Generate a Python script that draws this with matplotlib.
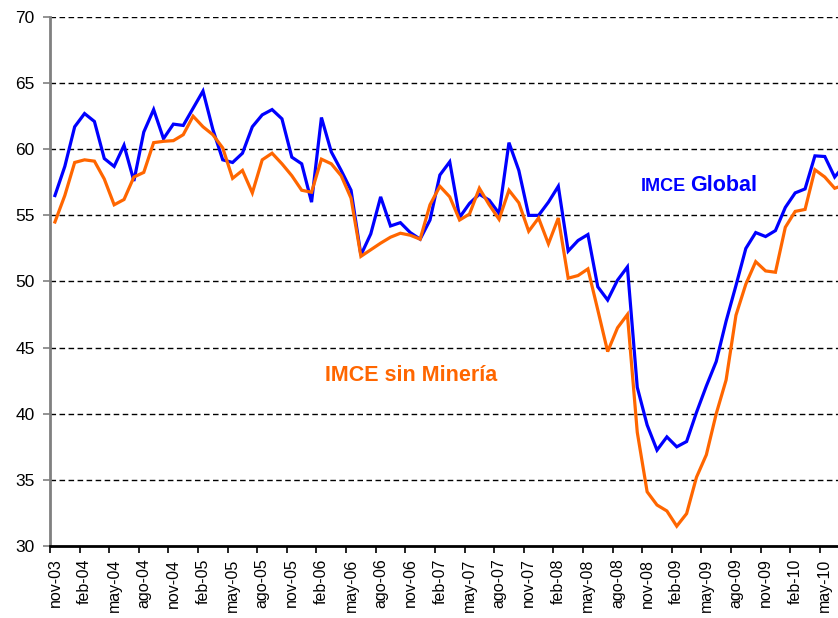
import matplotlib
matplotlib.use("Agg")
import matplotlib.pyplot as plt
import numpy as np

plt.rcParams['font.family'] = ['Liberation Sans', 'DejaVu Sans']

imce_global = [56.5, 58.7, 61.7, 62.7, 62.1, 59.3, 58.7, 60.3, 57.6, 61.3,
               63.0, 60.8, 61.9, 61.8, 63.1, 64.4, 61.5, 59.2, 59.0, 59.7,
               61.7, 62.6, 63.0, 62.3, 59.4, 58.9, 56.0, 62.4, 59.8, 58.4,
               56.9, 52.0, 53.6, 56.4, 54.2, 54.45, 53.7, 53.2, 54.65, 58.05,
               59.05, 54.85, 55.9, 56.6, 56.15, 55.15, 60.5, 58.4, 55.0, 55.0,
               56.0, 57.2, 52.3, 53.1, 53.55, 49.6, 48.6, 50.1, 51.1, 42.0,
               39.15, 37.25, 38.25, 37.5, 37.9, 40.1, 42.1, 43.95, 47.0, 49.7,
               52.5, 53.7, 53.4, 53.85, 55.6, 56.7, 57.0, 59.5, 59.45, 57.9,
               58.8]

imce_sin_mineria = [54.5, 56.5, 59.0, 59.2, 59.1, 57.75, 55.8, 56.2, 57.9, 58.25,
                    60.5, 60.6, 60.65, 61.1, 62.5, 61.7, 61.1, 60.1, 57.8, 58.4,
                    56.7, 59.2, 59.7, 58.9, 58.0, 56.9, 56.75, 59.25, 58.9, 58.0,
                    56.3, 51.9, 52.4, 52.9, 53.35, 53.65, 53.5, 53.2, 55.8, 57.2,
                    56.4, 54.65, 55.1, 57.05, 55.8, 54.7, 56.9, 55.95, 53.8, 54.8,
                    52.85, 54.8, 50.25, 50.45, 50.95, 47.85, 44.7, 46.5, 47.5, 38.6,
                    34.1, 33.1, 32.65, 31.5, 32.45, 35.2, 36.9, 40.0, 42.55, 47.45,
                    49.8, 51.5, 50.8, 50.7, 54.1, 55.3, 55.45, 58.45, 57.9, 57.05,
                    57.3]

tick_labels = ["nov-03", "feb-04", "may-04", "ago-04", "nov-04", "feb-05", "may-05",
               "ago-05", "nov-05", "feb-06", "may-06", "ago-06", "nov-06", "feb-07",
               "may-07", "ago-07", "nov-07", "feb-08", "may-08", "ago-08", "nov-08",
               "feb-09", "may-09", "ago-09", "nov-09", "feb-10", "may-10"]

W, H = 838, 618
fig = plt.figure(figsize=(W / 100, H / 100), dpi=100)
n = len(imce_global)
left_px, right_px = 50, 50 + n * 9.87
bottom_px, top_px = 546, 17
ax = fig.add_axes([left_px / W, 1 - bottom_px / H,
                   (right_px - left_px) / W, (bottom_px - top_px) / H])

x = np.arange(n)
ax.plot(x, imce_global, color='#0000FF', lw=2.3, solid_joinstyle='miter', zorder=3)
ax.plot(x, imce_sin_mineria, color='#FF6600', lw=2.3, solid_joinstyle='miter', zorder=3)

ax.set_xlim(-0.5, n - 0.5)
ax.set_ylim(30, 70)
ax.set_yticks(np.arange(30, 71, 5))
for yv in np.arange(35, 71, 5):
    ax.axhline(yv, color='black', lw=1.0, ls=(0, (4, 2.5)), zorder=1)

# category boundary ticks every 3 months, labels at category centers
ax.set_xticks(np.arange(-0.5, n, 3))
ax.set_xticklabels([])
ax.set_xticks(np.arange(0, n, 3)[:len(tick_labels)], minor=True)
ax.set_xticklabels(tick_labels, minor=True, rotation=90, fontsize=11.5)
ax.tick_params(axis='x', which='major', length=5, width=1.2, direction='out', color='black')
ax.tick_params(axis='x', which='minor', length=0, pad=9)
ax.tick_params(axis='y', length=5, width=1.2, color='#808080', labelsize=12.5, pad=6)

for s in ['top', 'right']:
    ax.spines[s].set_visible(False)
ax.spines['left'].set_color('#808080')
ax.spines['left'].set_linewidth(2)
ax.spines['bottom'].set_color('black')
ax.spines['bottom'].set_linewidth(2)

ax.text(59.4, 56.84, "IMCE", color='#0000FF', fontsize=13, fontweight='bold', va='baseline')
ax.text(64.4, 56.84, "Global", color='#0000FF', fontsize=15.5, fontweight='bold', va='baseline')
ax.text(27.36, 42.48, "IMCE sin Minería", color='#FF6600', fontsize=15.5, fontweight='bold', va='baseline')

fig.savefig("out.png", dpi=100)
